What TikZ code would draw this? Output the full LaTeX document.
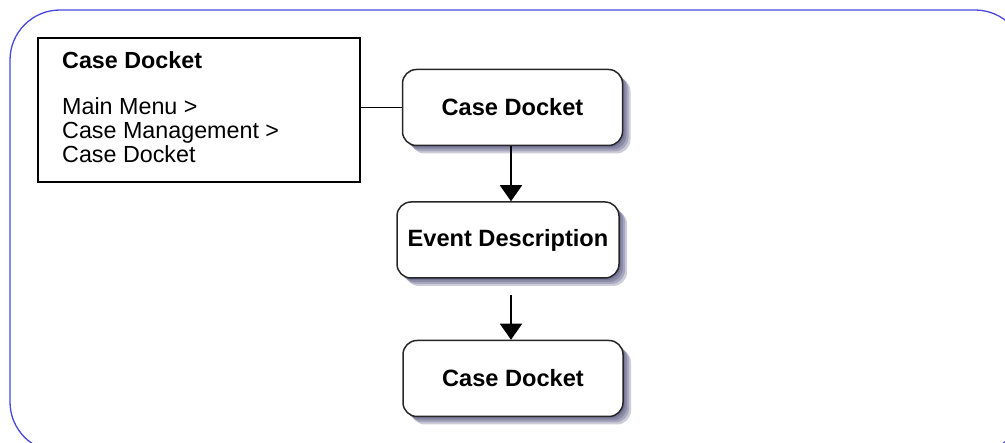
\documentclass[tikz,border=0pt]{standalone}
\usepackage{fontspec}
\setmainfont{Liberation Sans}
\usetikzlibrary{arrows.meta,shadows,calc}
\definecolor{framecol}{RGB}{72,72,222}
\definecolor{shadecol}{RGB}{55,55,105}
\tikzset{
  frame/.style={draw=framecol,line width=1.3pt,rounded corners=50pt},
  menubox/.style={draw=black,line width=2pt,minimum width=322pt,minimum height=144pt,inner sep=0pt},
  menutext/.style={align=left,inner sep=0pt,font=\fontsize{23.3}{24}\selectfont},
  sh/.style={drop shadow={shadow xshift=#1pt,shadow yshift=-#1pt,fill=shadecol,opacity=0.25}},
  stepbox/.style={draw=black!85,line width=1.5pt,rounded corners=14pt,fill=white,
    font=\fontsize{23.6}{24}\selectfont\bfseries,minimum height=76pt,
    sh=2,sh=4,sh=6,sh=8},
  link/.style={line width=1.8pt,black},
  arr/.style={link,-{Triangle[width=22pt,length=16pt]}},
}
\begin{document}
\begin{tikzpicture}[x=1pt,y=-1pt]
\useasboundingbox (0,0) rectangle (1005,443);
\begin{scope}
\clip (0,0) rectangle (1005,443);
\draw[frame] (10,10) rectangle (1025,452);
\end{scope}
\node[menubox] (menu) at (199,110) {};
\node[menutext,anchor=north west] (menutext) at (62,51) {\textbf{Case Docket}\\[22pt]Main Menu >\\Case Management >\\Case Docket};
\node[stepbox,minimum width=220pt] (top) at (512.5,107.5) {Case Docket};
\node[stepbox,minimum width=222pt] (event) at (508,240) {Event Description};
\node[stepbox,minimum width=220pt] (bottom) at (513,378.5) {Case Docket};
\draw[link] (menu.east |- top.west) -- (top.west);
\draw[arr] (top.south -| 511,0) -- (event.north -| 511,0);
\draw[arr] ($(event.south -| 511,0)+(0,16)$) -- (bottom.north -| 511,0);
\end{tikzpicture}
\end{document}
